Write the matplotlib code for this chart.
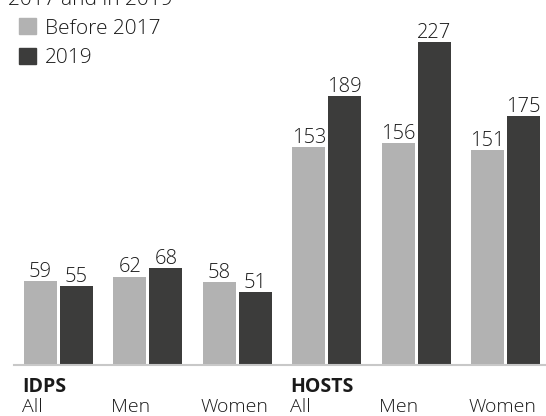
import matplotlib
matplotlib.use("Agg")
import matplotlib.pyplot as plt
from matplotlib.patches import Patch
from matplotlib.transforms import blended_transform_factory

plt.rcParams["font.family"] = ["Open Sans", "DejaVu Sans"]
plt.rcParams["font.weight"] = "light"

groups = ["IDPS", "HOSTS"]
categories = ["All", "Men", "Women", "All", "Men", "Women"]
group_of = ["IDPS", "IDPS", "IDPS", "HOSTS", "HOSTS", "HOSTS"]
before_2017 = [59, 62, 58, 153, 156, 151]
in_2019 = [55, 68, 51, 189, 227, 175]
series_names = ["Before 2017", "2019"]

light = "#b2b2b2"
dark = "#3c3c3b"
text_c = "#1a1a1a"

W, H = 546, 416
fig = plt.figure(figsize=(W / 100, H / 100), dpi=100)
ax = fig.add_axes([14 / W, (H - 364.5) / H, 1 - 14 / W, 364.5 / H])

x = list(range(len(categories)))
bw = 0.369
off = 0.201
b1 = ax.bar([i - off for i in x], before_2017, width=bw, color=light)
b2 = ax.bar([i + off for i in x], in_2019, width=bw, color=dark)

for bars, vals in ((b1, before_2017), (b2, in_2019)):
    for r, v in zip(bars, vals):
        ax.annotate(str(v), (r.get_x() + r.get_width() / 2, v),
                    xytext=(0, 3), textcoords="offset points",
                    ha="center", va="baseline", fontsize=14.5, color=text_c)

ax.set_xlim(-0.498, 5.453)
ax.set_ylim(0, 256.9)
for s in ["top", "right", "left"]:
    ax.spines[s].set_visible(False)
ax.spines["bottom"].set_color("#c8c8c8")
ax.spines["bottom"].set_linewidth(1.5)
ax.set_xticks([])
ax.set_yticks([])

# category and group labels under the axis
tr = blended_transform_factory(ax.transData, fig.transFigure)
seen = set()
for i, (cat, g) in enumerate(zip(categories, group_of)):
    left = i - off - bw / 2 - 0.025
    ax.text(left, 4 / H, cat, transform=tr, ha="left", va="baseline",
            fontsize=14, color=text_c, clip_on=False)
    if g not in seen:
        seen.add(g)
        ax.text(left, 24 / H, g, transform=tr, ha="left", va="baseline",
                fontsize=14, fontweight="bold", color=text_c, clip_on=False)

# subtitle line partly above the canvas
fig.text(8 / W, 1 - 5 / H, "2017 and in 2019", ha="left", va="baseline",
         fontsize=15, color=text_c)

handles = [Patch(color=light), Patch(color=dark)]
fig.legend(handles, series_names, loc="upper left",
           bbox_to_anchor=(11 / W, 1 - 10 / H), frameon=False,
           fontsize=15, handlelength=0.8, handleheight=0.8,
           handletextpad=0.45, labelspacing=0.45, borderaxespad=0,
           labelcolor=text_c)

fig.savefig("out.png", dpi=100)
